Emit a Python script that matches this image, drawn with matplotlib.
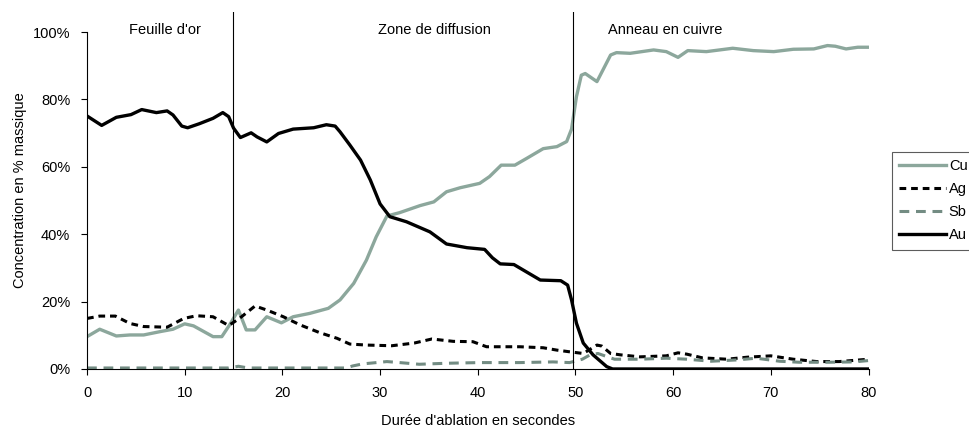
import matplotlib

matplotlib.use("Agg")
import matplotlib.pyplot as plt
from matplotlib.ticker import FuncFormatter

plt.rcParams["font.family"] = ["Liberation Sans", "DejaVu Sans"]

# ablation time (s) / concentration (% by mass)
cu_t = [0, 1.3, 3.0, 4.4, 5.8, 7.5, 8.8, 10.0, 10.9, 12.9, 13.8, 14.6, 15.5, 16.3, 17.2,
        18.4, 19.9, 21.1, 22.8, 24.7, 25.9, 27.3, 28.6, 29.6, 30.7, 32.0, 34.1, 35.5, 36.8,
        38.2, 40.2, 41.2, 42.4, 43.8, 45.0, 46.7, 48.1, 49.1, 49.6, 50.1, 50.6, 51.0, 52.2,
        53.6, 54.2, 55.6, 58.0, 59.3, 60.5, 61.5, 63.4, 66.1, 68.2, 70.3, 72.3, 74.4, 75.8,
        76.6, 77.7, 78.9, 80]
cu_v = [9.6, 11.8, 9.8, 10.1, 10.1, 11.1, 11.8, 13.4, 12.8, 9.6, 9.6, 13.1, 17.5, 11.6, 11.6,
        15.5, 13.7, 15.5, 16.5, 18.0, 20.5, 25.4, 32.3, 39.2, 45.4, 46.4, 48.5, 49.6, 52.6,
        53.8, 55.1, 57.1, 60.5, 60.5, 62.5, 65.4, 66.0, 67.5, 71.2, 80.8, 87.2, 87.7, 85.3,
        93.2, 93.9, 93.7, 94.7, 94.2, 92.5, 94.5, 94.2, 95.2, 94.5, 94.2, 94.9, 95.0, 96.0,
        95.8, 95.0, 95.5, 95.5]

ag_t = [0, 1.3, 2.9, 4.4, 5.8, 8.2, 9.9, 11.2, 12.9, 14.5, 15.6, 17.2, 18.4, 20.1, 21.8,
        23.8, 25.6, 26.9, 28.6, 31.2, 33.5, 35.3, 37.5, 39.5, 40.9, 44.3, 46.7, 48.1, 49.4,
        50.8, 52.2, 52.7, 53.6, 54.6, 56.6, 59.3, 60.5, 61.4, 63.0, 65.5, 67.6, 70.0, 72.3,
        74.7, 77.0, 80]
ag_v = [15.0, 15.7, 15.7, 13.5, 12.6, 12.4, 15.0, 15.8, 15.5, 12.9, 15.0, 18.7, 17.5, 15.5, 13.1,
        10.8, 9.1, 7.4, 7.1, 6.9, 7.7, 8.9, 8.2, 8.1, 6.6, 6.6, 6.3, 5.6, 5.1,
        4.6, 7.1, 6.8, 4.6, 4.2, 3.6, 3.9, 4.8, 4.4, 3.3, 2.9, 3.5, 3.9, 2.9,
        2.2, 2.2, 2.9]

sb_t = [0, 14.5, 15.5, 16.5, 26.5, 27.2, 28.2, 30.7, 32.0, 34.0, 36.8, 40.2, 44.3, 47.7, 49.4,
        50.7, 51.5, 52.3, 54.0, 56.6, 59.3, 61.4, 63.9, 66.6, 68.5, 70.9, 72.9, 75.8, 78.5, 80]
sb_v = [0.3, 0.3, 0.8, 0.3, 0.3, 0.9, 1.5, 2.2, 1.9, 1.4, 1.7, 1.9, 1.9, 2.1, 1.9,
        2.9, 4.2, 4.6, 2.9, 2.9, 3.2, 2.9, 2.3, 2.7, 3.2, 2.3, 2.0, 2.0, 2.1, 2.5]

au_t = [0, 1.5, 3, 4.5, 5.6, 7.1, 8.2, 8.8, 9.7, 10.3, 11.5, 12.9, 13.9, 14.5, 15,
        15.7, 16.8, 17.4, 18.4, 19.6, 21.1, 23.2, 24.5, 25.4, 25.9, 26.9, 28, 29, 30, 31,
        32.7, 35.1, 36.8, 38.9, 40.7, 41.5, 42.3, 43.7, 46.4, 48.5, 49.2, 49.6, 50.1, 50.8,
        51.8, 53.2, 53.8, 80]
au_v = [75.1, 72.3, 74.7, 75.5, 77.0, 76.1, 76.6, 75.4, 72.1, 71.6, 72.8, 74.4, 76.1, 74.9, 71.5,
        68.7, 70.1, 68.9, 67.4, 69.9, 71.2, 71.6, 72.5, 72.1, 70.4, 66.5, 62.0, 56.1, 49.0, 45.2,
        43.7, 40.7, 37.1, 36.0, 35.5, 33.0, 31.2, 31.0, 26.4, 26.2, 24.9, 20.5, 13.6, 7.7,
        4.2, 0.7, 0, 0]

zone_bounds = [14.9, 49.7]
zone_labels = ["Feuille d'or", "Zone de diffusion", "Anneau en cuivre"]
zone_label_x = [8.0, 35.6, 59.2]

CU_COLOR = "#8ca79c"
SB_COLOR = "#738c83"

fig = plt.figure(figsize=(9.69, 4.30), dpi=100)
ax = fig.add_axes([0.0898, 0.1419, 0.8065, 0.8305])

ax.plot(cu_t, cu_v, color=CU_COLOR, linewidth=2.4, label="Cu", solid_joinstyle="round")
ax.plot(ag_t, ag_v, color="black", linewidth=2.2, dashes=(2.2, 1.6), label="Ag")
ax.plot(sb_t, sb_v, color=SB_COLOR, linewidth=2.2, dashes=(3.2, 2.2), label="Sb")
ax.plot(au_t, au_v, color="black", linewidth=2.4, label="Au", solid_joinstyle="round")

for xb in zone_bounds:
    ax.axvline(xb, color="black", linewidth=0.8)
for xl, text in zip(zone_label_x, zone_labels):
    ax.text(xl, 100.6, text, ha="center", va="center", fontsize=10.5)

ax.set_xlim(0, 80)
ax.set_ylim(0, 106)
ax.set_xticks(range(0, 81, 10))
ax.set_yticks(range(0, 101, 20))
ax.yaxis.set_major_formatter(FuncFormatter(lambda v, _: f"{v:.0f}%"))
for side in ["top", "right"]:
    ax.spines[side].set_visible(False)
ax.spines["left"].set_bounds(0, 100)
ax.spines["bottom"].set_bounds(0, 80)
ax.tick_params(direction="out", length=4, width=0.8, labelsize=10.5, pad=8)
ax.set_xlabel("Durée d'ablation en secondes", fontsize=10.5, labelpad=10)
ax.set_ylabel("Concentration en % massique", fontsize=10.5, labelpad=4)

leg = ax.legend(loc="upper left", bbox_to_anchor=(0.9205, 0.6465), bbox_transform=fig.transFigure,
                frameon=True, fancybox=False, fontsize=10.5, handlelength=3.2, handletextpad=0.2,
                borderpad=0.5, labelspacing=0.62, borderaxespad=0)
leg.get_frame().set_edgecolor("#333333")
leg.get_frame().set_linewidth(0.8)

fig.savefig("out.png", dpi=100)
